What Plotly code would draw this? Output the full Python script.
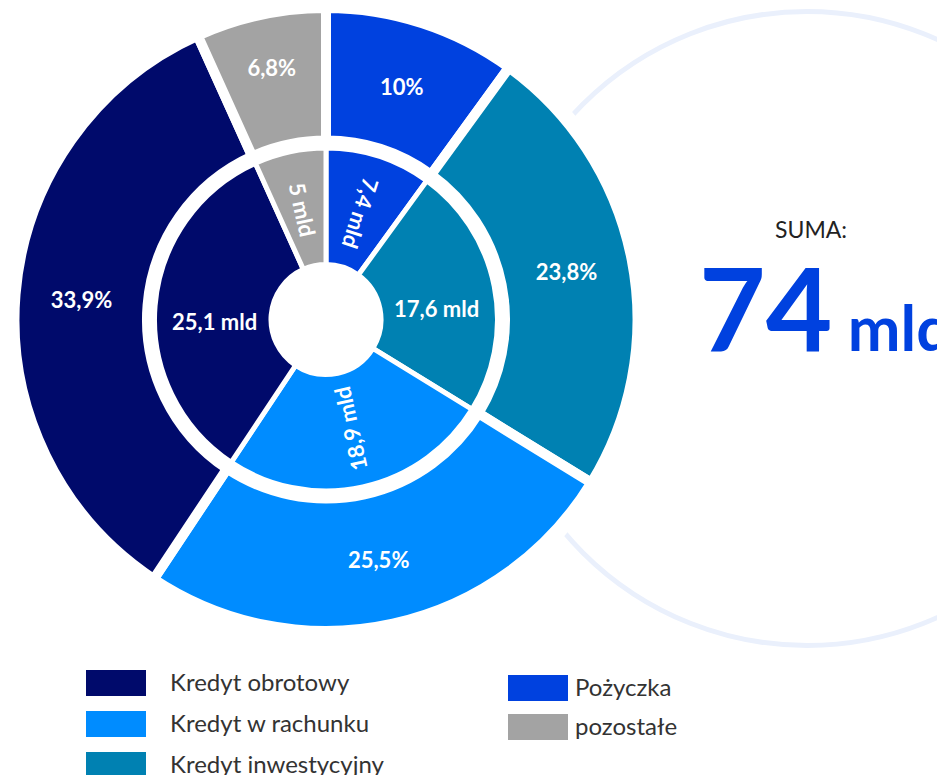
import math
import plotly.graph_objects as go

# ---------------- data ----------------
categories = ["Pożyczka", "Kredyt inwestycyjny", "Kredyt w rachunku", "Kredyt obrotowy", "pozostałe"]
values_mld = [7.4, 17.6, 18.9, 25.1, 5.0]
colors = ["#0041DF", "#0081B2", "#008CFF", "#000A6B", "#A3A3A3"]
legend_left = ["Kredyt obrotowy", "Kredyt w rachunku", "Kredyt inwestycyjny"]
legend_right = ["Pożyczka", "pozostałe"]
total_title = "SUMA:"
total_unit = "mld"


def fmt(v, dec=1):
    s = f"{v:.{dec}f}".replace(".", ",")
    if s.endswith(",0"):
        s = s[:-2]
    return s


total = sum(values_mld)
pct_text = [fmt(v / total * 100) + "%" for v in values_mld]
mld_text = [fmt(v) + " mld" for v in values_mld]
color_of = dict(zip(categories, colors))

# ---------------- geometry (pixels) ----------------
W, H = 937, 775
CX, CY = 326, 319.5
R_OUT, HOLE_OUT = 311.5, 179
R_IN, HOLE_IN = 171.5, 55
OUT_GAP, IN_GAP = 10, 5


def fx(x):
    return x / W


def fy(y):
    return 1 - y / H


def dom(r):
    return dict(x=[fx(CX - r), fx(CX + r)], y=[fy(CY + r), fy(CY - r)])


fig = go.Figure()

fig.add_trace(go.Pie(
    labels=categories, values=values_mld, sort=False, direction="clockwise", rotation=0,
    hole=HOLE_OUT / R_OUT, domain=dom(R_OUT),
    marker=dict(colors=colors, line=dict(color="white", width=OUT_GAP)),
    text=pct_text, textinfo="text", textposition="inside",
    insidetextorientation="horizontal",
    textfont=dict(family="Lato", size=22, color="white", weight="bold"),
    hoverinfo="label+value", showlegend=False,
))

fig.add_trace(go.Pie(
    labels=categories, values=values_mld, sort=False, direction="clockwise", rotation=0,
    hole=HOLE_IN / R_IN, domain=dom(R_IN),
    marker=dict(colors=colors, line=dict(color="white", width=IN_GAP)),
    textinfo="none", hoverinfo="label+value", showlegend=False,
))

annotations = []
# inner ring labels, placed at the middle of each slice
cum = 0.0
r_lab = (HOLE_IN + R_IN) / 2 - 1
for v, t in zip(values_mld, mld_text):
    mid = (cum + v / 2) / total * 2 * math.pi
    cum += v
    x = CX + r_lab * math.sin(mid)
    y = CY - r_lab * math.cos(mid)
    if abs(math.sin(mid)) > 0.9:
        ang, ysh = 0, -11
    else:
        ang, ysh = math.degrees(math.atan2(math.cos(mid), -math.sin(mid))), 0
    annotations.append(dict(
        x=fx(x), y=fy(y), xref="paper", yref="paper", text=t, showarrow=False,
        textangle=ang, xanchor="center", yanchor="middle", yshift=ysh,
        font=dict(family="Lato", size=22, color="white", weight="bold"),
    ))

# total
annotations.append(dict(
    x=fx(811), y=fy(229), xref="paper", yref="paper", text=total_title, showarrow=False,
    xanchor="center", yanchor="middle", font=dict(family="Lato", size=23, color="#222222"),
))
annotations.append(dict(
    x=fx(697), y=fy(377), xref="paper", yref="paper",
    text=fmt(total) + "<span style='font-size:63px'> " + total_unit + "</span>",
    showarrow=False, xanchor="left", yanchor="bottom",
    font=dict(family="Lato", size=115, color="#0041DF", weight="bold"),
))

shapes = [
    dict(type="circle", xref="paper", yref="paper", layer="below",
         x0=fx(807 - 317), x1=fx(807 + 317), y0=fy(328.5 + 317), y1=fy(328.5 - 317),
         line=dict(color="#EAF0FC", width=5), fillcolor="rgba(0,0,0,0)"),
    dict(type="circle", xref="paper", yref="paper", layer="below",
         x0=fx(CX - 322), x1=fx(CX + 322), y0=fy(CY + 322), y1=fy(CY - 322),
         line=dict(width=0), fillcolor="white"),
]


# manual legend with wide swatches
def legend_col(items, x0, y0, step, tx):
    for i, name in enumerate(items):
        top = y0 + i * step
        shapes.append(dict(type="rect", xref="paper", yref="paper",
                           x0=fx(x0), x1=fx(x0 + 60), y0=fy(top + 26), y1=fy(top),
                           line=dict(width=0), fillcolor=color_of[name]))
        annotations.append(dict(
            x=fx(tx), y=fy(top + 11), xref="paper", yref="paper", text=name,
            showarrow=False, xanchor="left", yanchor="middle",
            font=dict(family="Lato", size=24, color="#333333"),
        ))


legend_col(legend_left, 86, 670, 41, 168)
legend_col(legend_right, 508, 675, 39, 573)

fig.update_layout(
    width=W, height=H, margin=dict(l=0, r=0, t=0, b=0),
    paper_bgcolor="white", plot_bgcolor="white", showlegend=False,
    annotations=annotations, shapes=shapes,
)

fig.write_html("out.html", config={"displayModeBar": False},
               post_script="document.body.style.margin='0px';")
